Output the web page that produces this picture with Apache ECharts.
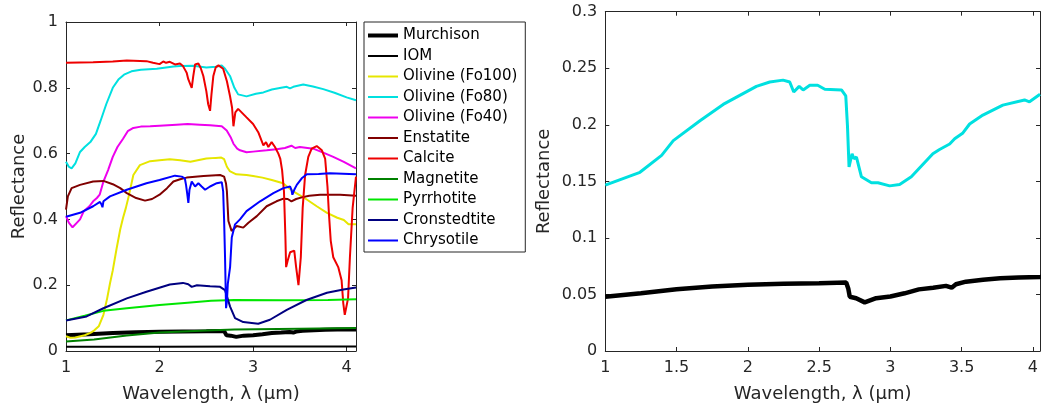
<!DOCTYPE html>
<html><head><meta charset="utf-8">
<script src="https://cdn.jsdelivr.net/npm/echarts/dist/echarts.min.js"></script>
<style>html,body{margin:0;padding:0;background:#fff}#c{width:1041px;height:408px}</style>
</head><body><div id="c"></div>
<script>
// ---------- data ----------
const legendNames = ['Murchison','IOM','Olivine (Fo100)','Olivine (Fo80)','Olivine (Fo40)','Enstatite','Calcite','Magnetite','Pyrrhotite','Cronstedtite','Chrysotile'];
const leftXTicks = [1,2,3,4];
const rightXTicks = [1,1.5,2,2.5,3,3.5,4];

const murchisonX = [1.0,1.25,1.5,1.75,2.0,2.25,2.5,2.69,2.705,2.715,2.76,2.82,2.9,3.0,3.1,3.2,3.3,3.39,3.43,3.46,3.53,3.65,3.77,3.9,4.05,4.1];
const murchisonY = [0.048,0.051,0.0545,0.057,0.0585,0.0595,0.06,0.0605,0.055,0.048,0.0467,0.043,0.0467,0.0482,0.051,0.0545,0.056,0.0576,0.056,0.059,0.0613,0.063,0.0643,0.065,0.0655,0.0657];

const iomX = [1.0,2.0,3.0,4.1];
const iomY = [0.013,0.013,0.0135,0.014];

const fo100X = [1.0,1.05,1.1,1.2,1.26,1.3,1.35,1.4,1.44,1.47,1.5,1.54,1.58,1.61,1.64,1.67,1.72,1.79,1.9,2.0,2.11,2.22,2.33,2.5,2.6,2.66,2.69,2.72,2.75,2.82,2.93,3.0,3.1,3.2,3.32,3.43,3.55,3.68,3.79,3.9,3.97,4.02,4.1];
const fo100Y = [0.045,0.04,0.041,0.048,0.055,0.062,0.075,0.11,0.16,0.205,0.245,0.31,0.37,0.405,0.435,0.47,0.535,0.565,0.577,0.58,0.583,0.58,0.575,0.585,0.587,0.588,0.583,0.56,0.547,0.537,0.535,0.532,0.527,0.52,0.51,0.485,0.465,0.44,0.42,0.405,0.398,0.385,0.385];

const fo80X = [1.0,1.03,1.06,1.1,1.15,1.2,1.26,1.32,1.37,1.43,1.5,1.56,1.62,1.7,1.8,1.97,2.15,2.22,2.36,2.5,2.6,2.664,2.7,2.753,2.8,2.84,2.93,3.03,3.11,3.2,3.3,3.36,3.394,3.43,3.536,3.64,3.75,3.87,4.0,4.1];
const fo80Y = [0.575,0.56,0.555,0.57,0.605,0.62,0.635,0.66,0.70,0.75,0.80,0.825,0.84,0.85,0.855,0.858,0.865,0.866,0.867,0.862,0.864,0.868,0.858,0.836,0.80,0.78,0.774,0.782,0.786,0.795,0.80,0.803,0.798,0.803,0.81,0.804,0.796,0.785,0.771,0.762];

const fo40X = [1.0,1.03,1.07,1.11,1.15,1.19,1.25,1.29,1.33,1.36,1.4,1.45,1.5,1.55,1.61,1.66,1.72,1.8,1.9,2.0,2.18,2.3,2.43,2.54,2.665,2.718,2.76,2.79,2.83,2.86,2.93,3.0,3.145,3.25,3.34,3.41,3.45,3.5,3.643,3.75,3.857,3.97,4.1];
const fo40Y = [0.41,0.39,0.376,0.388,0.40,0.425,0.44,0.455,0.465,0.475,0.515,0.55,0.59,0.62,0.645,0.668,0.678,0.682,0.683,0.685,0.688,0.69,0.688,0.686,0.683,0.67,0.65,0.63,0.615,0.61,0.604,0.606,0.61,0.613,0.617,0.624,0.617,0.62,0.615,0.603,0.59,0.575,0.555];

const enstatiteX = [1.0,1.02,1.06,1.15,1.29,1.4,1.5,1.58,1.65,1.75,1.845,1.92,2.0,2.08,2.148,2.22,2.29,2.47,2.647,2.69,2.71,2.72,2.736,2.77,2.825,2.895,2.95,3.04,3.145,3.25,3.324,3.37,3.41,3.46,3.52,3.6,3.716,3.93,4.1];
const enstatiteY = [0.43,0.47,0.495,0.505,0.515,0.517,0.507,0.495,0.48,0.465,0.457,0.462,0.475,0.495,0.515,0.522,0.527,0.532,0.535,0.53,0.51,0.485,0.395,0.365,0.38,0.375,0.39,0.41,0.44,0.455,0.463,0.462,0.455,0.462,0.467,0.472,0.475,0.475,0.472];

const calciteX = [1.0,1.29,1.5,1.65,1.86,1.93,2.0,2.04,2.07,2.11,2.165,2.218,2.25,2.27,2.29,2.307,2.33,2.344,2.36,2.38,2.415,2.44,2.468,2.5,2.52,2.54,2.555,2.575,2.6,2.63,2.68,2.72,2.753,2.775,2.79,2.81,2.84,2.93,3.0,3.055,3.11,3.138,3.163,3.198,3.234,3.27,3.29,3.31,3.33,3.345,3.353,3.37,3.396,3.44,3.46,3.485,3.51,3.53,3.556,3.59,3.626,3.68,3.735,3.77,3.795,3.81,3.83,3.857,3.91,3.946,3.964,3.98,4.0,4.015,4.035,4.064,4.1];
const calciteY = [0.876,0.878,0.88,0.883,0.881,0.876,0.872,0.88,0.876,0.879,0.871,0.874,0.866,0.856,0.846,0.826,0.81,0.80,0.835,0.871,0.874,0.86,0.836,0.79,0.75,0.73,0.78,0.836,0.862,0.868,0.858,0.82,0.775,0.74,0.683,0.725,0.736,0.71,0.69,0.665,0.625,0.635,0.62,0.635,0.62,0.6,0.585,0.55,0.485,0.35,0.255,0.275,0.30,0.305,0.255,0.20,0.285,0.435,0.535,0.59,0.615,0.623,0.61,0.585,0.5,0.42,0.335,0.285,0.255,0.215,0.145,0.11,0.112,0.16,0.285,0.435,0.53];

const magnetiteX = [1.0,1.3,1.65,2.0,2.5,2.8,3.5,4.1];
const magnetiteY = [0.029,0.035,0.047,0.056,0.062,0.065,0.068,0.07];

const pyrrhotiteX = [1.0,1.2,1.4,1.65,2.0,2.3,2.55,2.8,3.3,3.8,4.1];
const pyrrhotiteY = [0.093,0.107,0.122,0.13,0.14,0.147,0.153,0.155,0.154,0.155,0.157];

const cronstedtiteX = [1.0,1.22,1.4,1.65,1.86,2.11,2.25,2.307,2.344,2.4,2.54,2.647,2.70,2.754,2.807,2.895,3.055,3.18,3.36,3.57,3.79,3.965,4.1];
const cronstedtiteY = [0.093,0.105,0.13,0.16,0.18,0.202,0.207,0.203,0.195,0.2,0.197,0.195,0.185,0.135,0.10,0.088,0.083,0.095,0.125,0.155,0.177,0.187,0.193];

const chrysotileX = [1.0,1.15,1.29,1.363,1.38,1.39,1.4,1.47,1.65,1.86,2.0,2.165,2.237,2.27,2.283,2.295,2.308,2.32,2.344,2.38,2.415,2.45,2.487,2.54,2.612,2.665,2.68,2.69,2.70,2.711,2.72,2.73,2.754,2.772,2.807,2.86,2.93,3.075,3.217,3.324,3.396,3.41,3.42,3.44,3.467,3.52,3.574,3.7,3.82,4.1];
const chrysotileY = [0.408,0.42,0.44,0.453,0.445,0.437,0.455,0.47,0.49,0.51,0.52,0.533,0.53,0.525,0.505,0.48,0.45,0.49,0.515,0.5,0.51,0.5,0.49,0.5,0.51,0.513,0.485,0.4,0.285,0.13,0.15,0.205,0.255,0.345,0.385,0.40,0.425,0.455,0.48,0.495,0.50,0.49,0.475,0.49,0.505,0.525,0.537,0.538,0.54,0.537];

const rightCyanX = [1.0,1.243,1.395,1.477,1.664,1.827,2.06,2.154,2.247,2.294,2.322,2.36,2.388,2.435,2.49,2.54,2.657,2.687,2.699,2.71,2.72,2.731,2.745,2.762,2.797,2.867,2.913,2.995,3.065,3.147,3.298,3.345,3.416,3.451,3.509,3.556,3.649,3.789,3.941,3.976,4.05];
const rightCyanY = [0.1466,0.158,0.173,0.186,0.2036,0.218,0.234,0.2378,0.2395,0.2378,0.229,0.234,0.2308,0.2349,0.235,0.2314,0.2308,0.2255,0.199,0.1627,0.163,0.1744,0.170,0.1715,0.154,0.1487,0.1487,0.146,0.1472,0.154,0.1744,0.1782,0.183,0.1876,0.1928,0.2007,0.2086,0.2174,0.222,0.2203,0.227];

// ---------- chart ----------
const FONT = 'DejaVu Sans';
const AX = '#262626';
const zip = (xs, ys) => xs.map((x, i) => [x, ys[i]]);

function axisBase(extra) {
  return Object.assign({
    type: 'value',
    axisLine: { show: true, onZero: false, lineStyle: { color: AX, width: 1 } },
    axisTick: { show: true, inside: true, length: 4, lineStyle: { color: AX } },
    splitLine: { show: false },
  }, extra);
}
function mainLabel(margin) {
  return { show: true, color: AX, fontFamily: FONT, fontSize: 16, margin: margin, showMaxLabel: false };
}
const nameStyle = { color: AX, fontFamily: FONT, fontSize: 18 };

function s(name, xs, ys, color, width, gi) {
  return {
    name: name, type: 'line', xAxisIndex: gi * 2, yAxisIndex: gi * 2,
    data: zip(xs, ys), symbol: 'none', showSymbol: false, clip: true,
    lineStyle: { color: color, width: width }, itemStyle: { color: color },
    emphasis: { disabled: true }, animation: false
  };
}

// legend icons: flat bars drawn as a line sample (thicker for Murchison)
const legendData = legendNames.map(n => ({
  name: n,
  icon: n === 'Murchison' ? 'path://M0,0h30v4h-30z' : 'path://M0,0h30v2h-30z'
}));

const option = {
  animation: false,
  backgroundColor: '#fff',
  grid: [
    { left: 66, top: 22, width: 290, height: 333 },
    { left: 605.3, top: 11.7, width: 435.4, height: 342.3 }
  ],
  xAxis: [
    axisBase({ gridIndex: 0, position: 'bottom', min: 1, max: 4.1, interval: 1,
      axisLabel: mainLabel(9), name: 'Wavelength, λ (μm)', nameLocation: 'middle', nameGap: 34, nameTextStyle: nameStyle }),
    axisBase({ gridIndex: 0, position: 'top', min: 1, max: 4.1, interval: 1, axisLabel: { show: false } }),
    axisBase({ gridIndex: 1, position: 'bottom', min: 1, max: 4.05, interval: 0.5,
      axisLabel: mainLabel(9), name: 'Wavelength, λ (μm)', nameLocation: 'middle', nameGap: 34, nameTextStyle: nameStyle }),
    axisBase({ gridIndex: 1, position: 'top', min: 1, max: 4.05, interval: 0.5, axisLabel: { show: false } })
  ],
  yAxis: [
    axisBase({ gridIndex: 0, position: 'left', min: 0, max: 1, interval: 0.2,
      axisLabel: Object.assign(mainLabel(8), { showMaxLabel: true }), name: 'Reflectance', nameLocation: 'middle', nameGap: 38, nameTextStyle: nameStyle }),
    axisBase({ gridIndex: 0, position: 'right', min: 0, max: 1, interval: 0.2, axisLabel: { show: false } }),
    axisBase({ gridIndex: 1, position: 'left', min: 0, max: 0.3, interval: 0.05,
      axisLabel: Object.assign(mainLabel(8), { showMaxLabel: true }), name: 'Reflectance', nameLocation: 'middle', nameGap: 52, nameTextStyle: nameStyle }),
    axisBase({ gridIndex: 1, position: 'right', min: 0, max: 0.3, interval: 0.05, axisLabel: { show: false } })
  ],
  legend: {
    orient: 'vertical', left: 364, top: 22,
    data: legendData, selectedMode: false,
    itemWidth: 30, itemHeight: 14, itemGap: 5.5,
    symbolKeepAspect: true,
    padding: [6, 8, 4, 4],
    borderColor: AX, borderWidth: 1, backgroundColor: '#fff',
    textStyle: { fontFamily: FONT, fontSize: 15, color: '#000' }
  },
  series: [
    s('Murchison', murchisonX, murchisonY, '#000000', 4, 0),
    s('IOM', iomX, iomY, '#000000', 2, 0),
    s('Olivine (Fo100)', fo100X, fo100Y, '#e6e600', 2, 0),
    s('Olivine (Fo80)', fo80X, fo80Y, '#00e0e0', 2, 0),
    s('Olivine (Fo40)', fo40X, fo40Y, '#ee00ee', 2, 0),
    s('Enstatite', enstatiteX, enstatiteY, '#800000', 2, 0),
    s('Calcite', calciteX, calciteY, '#ee0000', 2, 0),
    s('Magnetite', magnetiteX, magnetiteY, '#008000', 2, 0),
    s('Pyrrhotite', pyrrhotiteX, pyrrhotiteY, '#00e600', 2, 0),
    s('Cronstedtite', cronstedtiteX, cronstedtiteY, '#000080', 2, 0),
    s('Chrysotile', chrysotileX, chrysotileY, '#0000ff', 2, 0),
    s('Panel B cyan', rightCyanX, rightCyanY, '#00e0e0', 3, 1),
    s('Panel B Murchison', murchisonX, murchisonY, '#000000', 4.5, 1)
  ]
};

const chart = echarts.init(document.getElementById('c'), null, { renderer: 'canvas' });
chart.setOption(option);
</script></body></html>
